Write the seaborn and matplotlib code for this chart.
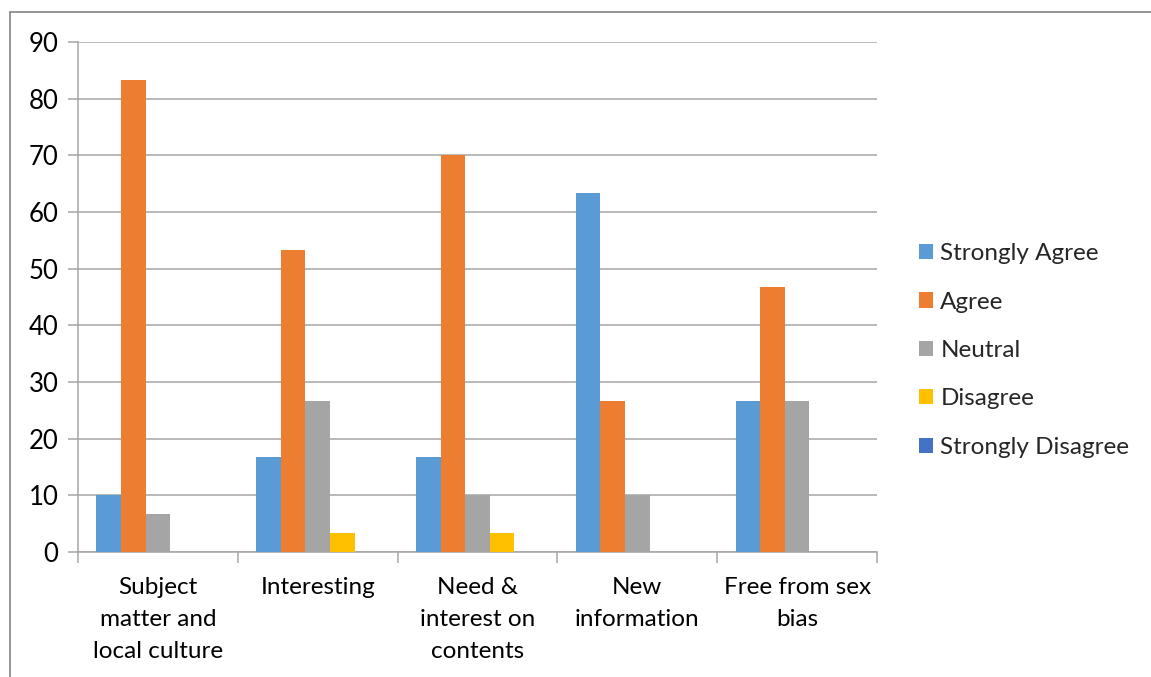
import matplotlib
matplotlib.use("Agg")
import matplotlib.pyplot as plt
from matplotlib.lines import Line2D
import seaborn as sns
import pandas as pd
import numpy as np

# Survey responses (%) per textbook aspect
categories = [
    "Subject\nmatter and\nlocal culture",
    "Interesting",
    "Need &\ninterest on\ncontents",
    "New\ninformation",
    "Free from sex\nbias",
]
responses = ["Strongly Agree", "Agree", "Neutral", "Disagree", "Strongly Disagree"]
strongly_agree = [10.0, 16.7, 16.7, 63.3, 26.7]
agree = [83.3, 53.3, 70.0, 26.7, 46.7]
neutral = [6.7, 26.7, 10.0, 10.0, 26.7]
disagree = [0.0, 3.3, 3.3, 0.0, 0.0]
strongly_disagree = [0.0, 0.0, 0.0, 0.0, 0.0]
y_ticks = [0, 10, 20, 30, 40, 50, 60, 70, 80, 90]

colors = ["#5B9BD5", "#ED7D31", "#A5A5A5", "#FFC000", "#4472C4"]

series = [strongly_agree, agree, neutral, disagree, strongly_disagree]
df = pd.DataFrame(
    [(c, r, v) for r, vals in zip(responses, series) for c, v in zip(categories, vals)],
    columns=["aspect", "response", "percent"],
)

sns.set_style("white")
plt.rcParams["font.family"] = ["Lato", "DejaVu Sans"]

W, H = 1151, 677
FS = 17.5
fig = plt.figure(figsize=(W / 100, H / 100), dpi=100)
ax = fig.add_axes([78 / W, 1 - 552 / H, (877 - 78) / W, (552 - 42) / H])

sns.barplot(
    data=df, x="aspect", y="percent", hue="response",
    order=categories, hue_order=responses, palette=colors,
    width=5 / 6.5, gap=0, saturation=1, errorbar=None, ax=ax, zorder=3,
    linewidth=0,
)

grid_col = "#A6A6A6"
ax.set_ylim(0, 90)
ax.set_xlim(-0.5, len(categories) - 0.5)
ax.set_yticks(y_ticks)
ax.yaxis.grid(True, color=grid_col, linewidth=1.1, zorder=0)
ax.xaxis.grid(False)
ax.set_axisbelow(True)
ax.set_xlabel("")
ax.set_ylabel("")

for side in ["top", "right"]:
    ax.spines[side].set_visible(False)
for side in ["left", "bottom"]:
    ax.spines[side].set_color(grid_col)
    ax.spines[side].set_linewidth(1.1)

ax.tick_params(axis="y", length=7, width=1.1, color=grid_col, labelsize=18.5,
               labelcolor="#000000", pad=7, left=True)
ax.tick_params(axis="x", which="major", length=0, labelsize=FS,
               labelcolor="#000000", pad=18)
ax.set_xticks(np.arange(-0.5, len(categories)), minor=True)
ax.tick_params(axis="x", which="minor", length=8, width=1.1, color=grid_col, bottom=True)
for lbl in ax.get_xticklabels():
    lbl.set_linespacing(1.66)
    lbl.set_va("top")

handles, labels = ax.get_legend_handles_labels()
ax.legend(
    handles, labels, loc="center left", bbox_to_anchor=(919 / W, 1 - 350.5 / H),
    bbox_transform=fig.transFigure, frameon=False, fontsize=FS,
    handlelength=0.58, handleheight=0.58, handletextpad=0.3, labelspacing=1.13,
    borderaxespad=0, borderpad=0,
)

# outer chart frame
frame_col = "#8C8C8C"
fig.add_artist(Line2D([10 / W, 10 / W], [0, 1 - 12 / H], transform=fig.transFigure,
                      color=frame_col, linewidth=1.3))
fig.add_artist(Line2D([10 / W, 1], [1 - 12 / H, 1 - 12 / H], transform=fig.transFigure,
                      color=frame_col, linewidth=1.3))

fig.savefig("out.png", dpi=100, facecolor="white")
